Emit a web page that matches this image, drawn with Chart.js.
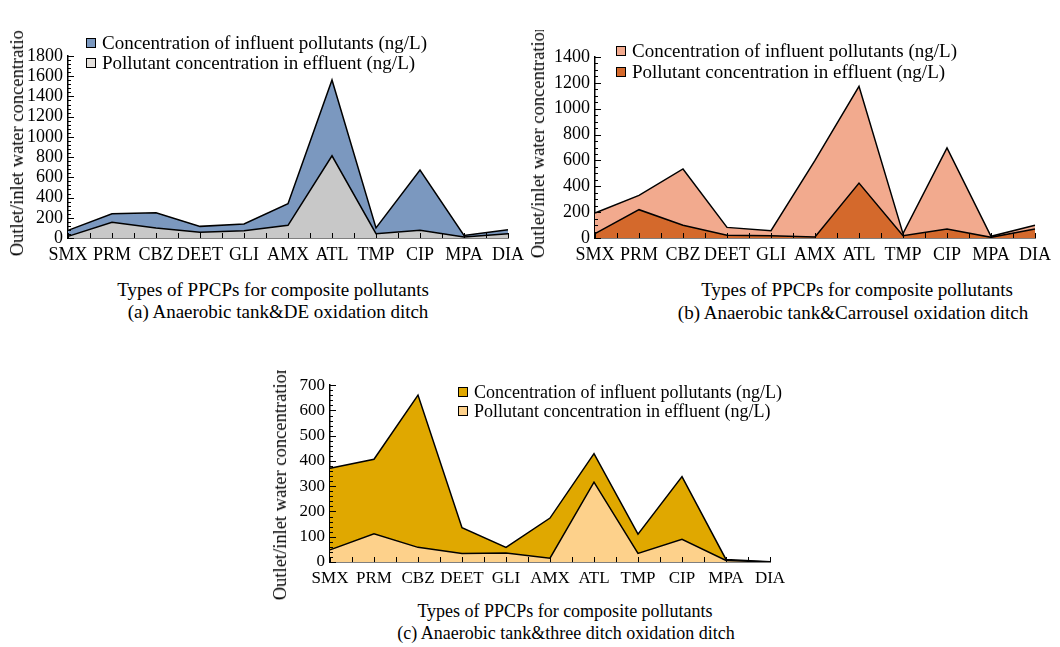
<!DOCTYPE html>
<html>
<head>
    <title>PPCPs influent / effluent concentration</title>
    <script src="https://cdn.jsdelivr.net/npm/chart.js"></script>
    <style>
        body {
            margin: 0;
            background: #ffffff;
            font-family: "Liberation Serif", "Times New Roman", serif;
            color: #000;
            width: 1060px;
            height: 647px;
            position: relative;
            overflow: hidden;
        }
        .panel {
            position: absolute;
            overflow: hidden;
        }
        .panel canvas {
            position: absolute;
            left: 0;
            top: 0;
        }
        .ytitle {
            position: absolute;
            writing-mode: vertical-rl;
            transform: rotate(180deg);
            font-size: 18.5px;
            line-height: 16px;
            white-space: nowrap;
        }
        .legend {
            position: absolute;
            font-size: 19px;
            white-space: nowrap;
        }
        .legend .box {
            display: inline-block;
            width: 8px;
            height: 8px;
            border: 1px solid #000;
            margin-right: 6px;
            vertical-align: 1px;
        }
        .caption {
            position: absolute;
            width: 420px;
            text-align: center;
            font-size: 19px;
            line-height: 20px;
            white-space: nowrap;
        }
    </style>
</head>
<body>

    <!-- (a) -->
    <div class="panel" style="left:0; top:30px; width:530px; height:300px;">
        <canvas id="chartA" width="530" height="240"></canvas>
        <div class="ytitle" style="left:9px; bottom:74px;">Outlet/inlet water concentration</div>
        <div class="legend" style="left:86px; top:3px; line-height:20px;">
            <div><span class="box" style="background:#7b98bf"></span>Concentration of influent pollutants (ng/L)</div>
            <div><span class="box" style="background:#e4e0dc"></span>Pollutant concentration in effluent (ng/L)</div>
        </div>
    </div>

    <!-- (b) -->
    <div class="panel" style="left:530px; top:30px; width:530px; height:300px;">
        <canvas id="chartB" width="530" height="240"></canvas>
        <div class="ytitle" style="left:0px; bottom:72px;">Outlet/inlet water concentration</div>
        <div class="legend" style="left:86px; top:10px; line-height:21px;">
            <div><span class="box" style="background:#f2aa8e"></span>Concentration of influent pollutants (ng/L)</div>
            <div><span class="box" style="background:#d4692c"></span>Pollutant concentration in effluent (ng/L)</div>
        </div>
    </div>

    <!-- (c) -->
    <div class="panel" style="left:270px; top:370px; width:560px; height:277px;">
        <canvas id="chartC" width="560" height="220"></canvas>
        <div class="ytitle" style="left:2px; bottom:47px;">Outlet/inlet water concentration</div>
        <div class="legend" style="left:188px; top:13px; line-height:19px; font-size:18px;">
            <div><span class="box" style="background:#e0a800"></span>Concentration of influent pollutants (ng/L)</div>
            <div><span class="box" style="background:#fdd18b"></span>Pollutant concentration in effluent (ng/L)</div>
        </div>
    </div>

    <div class="caption" style="left:63px; top:280px;">Types of PPCPs for composite pollutants</div>
    <div class="caption" style="left:68px; top:302px;">(a) Anaerobic tank&amp;DE oxidation ditch</div>
    <div class="caption" style="left:647px; top:280px;">Types of PPCPs for composite pollutants</div>
    <div class="caption" style="left:643px; top:303px;">(b) Anaerobic tank&amp;Carrousel oxidation ditch</div>
    <div class="caption" style="left:355px; top:601px; font-size:18px;">Types of PPCPs for composite pollutants</div>
    <div class="caption" style="left:356px; top:623px; font-size:18px;">(c) Anaerobic tank&amp;three ditch oxidation ditch</div>

    <script>
        // PPCP categories (x axis)
        const categories = ['SMX', 'PRM', 'CBZ', 'DEET', 'GLI', 'AMX', 'ATL', 'TMP', 'CIP', 'MPA', 'DIA'];

        // (a) Anaerobic tank & DE oxidation ditch (ng/L)
        const influentA = [75, 240, 250, 115, 138, 339, 1563, 99, 671, 26, 82];
        const effluentA = [16, 155, 99, 56, 72, 125, 813, 43, 76, 10, 43];

        // (b) Anaerobic tank & Carrousel oxidation ditch (ng/L)
        const influentB = [193, 330, 534, 82, 57, 600, 1173, 34, 696, 13, 98];
        const effluentB = [34, 219, 98, 21, 18, 8, 425, 18, 70, 5, 70];

        // (c) Anaerobic tank & three ditch oxidation ditch (ng/L)
        const influentC = [371, 407, 661, 136, 58, 174, 429, 110, 338, 10, 1];
        const effluentC = [48, 112, 58, 34, 36, 15, 316, 34, 90, 6, 0];

        // y axis ranges
        const yMaxA = 1800, yStepA = 200;
        const yMaxB = 1400, yStepB = 200;
        const yMaxC = 700, yStepC = 100;

        // tick marks pointing into the plot, major + minor
        const inwardTicks = {
            id: 'inwardTicks',
            afterDraw(chart, args, opts) {
                const ctx = chart.ctx;
                const x = chart.scales.x;
                const y = chart.scales.y;
                const area = chart.chartArea;
                const n = x.getLabels().length;
                ctx.save();
                ctx.strokeStyle = '#000';
                ctx.lineWidth = 1;
                ctx.beginPath();
                for (let i = 0; i < n; i++) {
                    const px = Math.round(x.getPixelForValue(i)) + 0.5;
                    ctx.moveTo(px, area.bottom);
                    ctx.lineTo(px, area.bottom - 5);
                    if (i < n - 1) {
                        const mx = Math.round((x.getPixelForValue(i) + x.getPixelForValue(i + 1)) / 2) + 0.5;
                        ctx.moveTo(mx, area.bottom);
                        ctx.lineTo(mx, area.bottom - 5);
                    }
                }
                for (let v = 0; v <= y.max + 0.001; v += opts.minor) {
                    const py = Math.round(y.getPixelForValue(v)) + 0.5;
                    const major = Math.abs(v % opts.major) < 0.001;
                    ctx.moveTo(area.left, py);
                    ctx.lineTo(area.left + (major ? 6 : 3), py);
                }
                ctx.stroke();
                ctx.restore();
            }
        };

        function makeChart(id, influent, effluent, colors, yMax, yStep, minor, box, fontSize) {
            const ctx = document.getElementById(id).getContext('2d');
            return new Chart(ctx, {
                type: 'line',
                data: {
                    labels: categories,
                    datasets: [
                        {
                            // drawn last -> on top
                            label: 'Pollutant concentration in effluent (ng/L)',
                            data: effluent,
                            borderColor: '#000',
                            borderWidth: 1.5,
                            backgroundColor: colors[1],
                            fill: 'origin',
                            pointRadius: 0,
                            tension: 0
                        },
                        {
                            label: 'Concentration of influent pollutants (ng/L)',
                            data: influent,
                            borderColor: '#000',
                            borderWidth: 1.5,
                            backgroundColor: colors[0],
                            fill: 'origin',
                            pointRadius: 0,
                            tension: 0
                        }
                    ]
                },
                options: {
                    responsive: false,
                    animation: false,
                    layout: {
                        autoPadding: false,
                        padding: { left: 0, top: box.top, right: box.right, bottom: 0 }
                    },
                    plugins: {
                        legend: { display: false },
                        tooltip: { enabled: false },
                        inwardTicks: { major: yStep, minor: minor }
                    },
                    scales: {
                        x: {
                            type: 'category',
                            offset: false,
                            grid: { display: true, drawOnChartArea: false, drawTicks: false },
                            border: { display: true, color: '#000', width: 1.5 },
                            ticks: {
                                color: '#000',
                                autoSkip: false,
                                maxRotation: 0,
                                minRotation: 0,
                                padding: 6,
                                font: { family: "'Liberation Serif', 'Times New Roman', serif", size: fontSize }
                            },
                            afterFit: (scale) => { scale.height = box.xHeight; }
                        },
                        y: {
                            min: 0,
                            max: yMax,
                            grid: { display: true, drawOnChartArea: false, drawTicks: false },
                            border: { display: true, color: '#000', width: 1.5 },
                            ticks: {
                                stepSize: yStep,
                                autoSkip: false,
                                color: '#000',
                                padding: 5,
                                callback: (v) => String(v),
                                font: { family: "'Liberation Serif', 'Times New Roman', serif", size: fontSize }
                            },
                            afterFit: (scale) => { scale.width = box.left; }
                        }
                    }
                },
                plugins: [inwardTicks]
            });
        }

        makeChart('chartA', influentA, effluentA, ['#7b98bf', '#c8c8c8'], yMaxA, yStepA, 40,
            { left: 68, top: 26, right: 18, xHeight: 32 }, 18);
        makeChart('chartB', influentB, effluentB, ['#f2aa8e', '#d4692c'], yMaxB, yStepB, 50,
            { left: 65, top: 27, right: 25, xHeight: 32 }, 18);
        makeChart('chartC', influentC, effluentC, ['#e0a800', '#fdd18b'], yMaxC, yStepC, 20,
            { left: 60, top: 11, right: 60, xHeight: 28 }, 17);
    </script>
</body>
</html>
